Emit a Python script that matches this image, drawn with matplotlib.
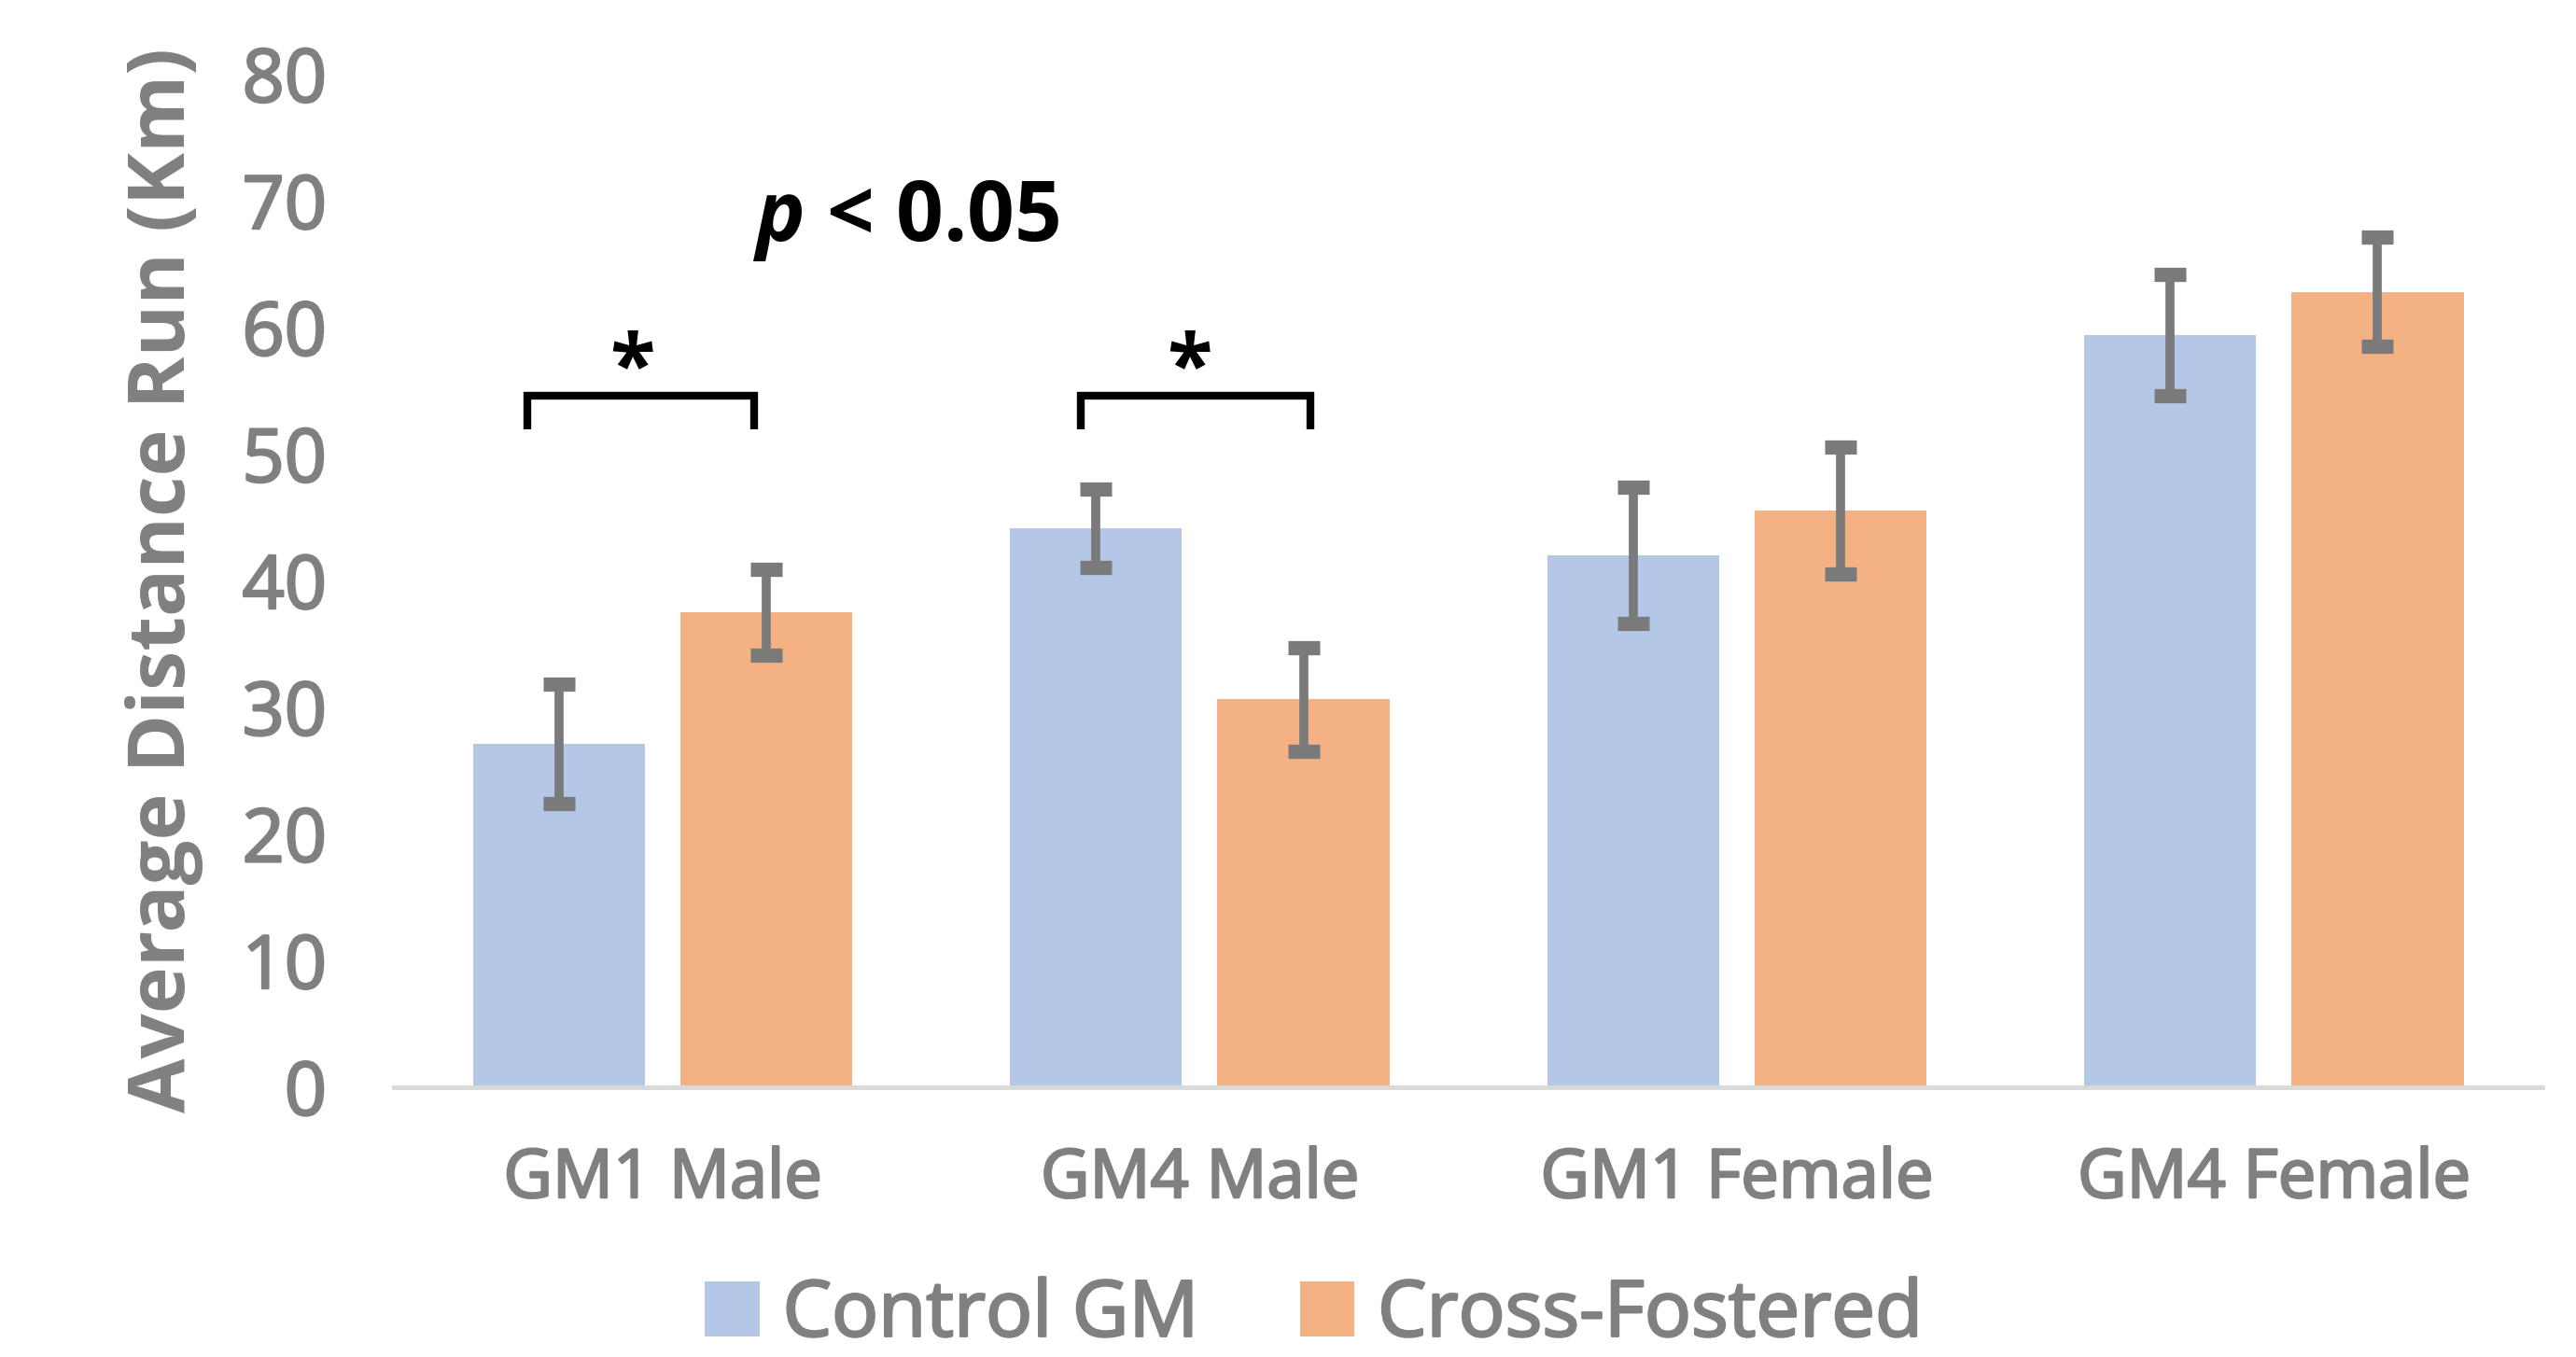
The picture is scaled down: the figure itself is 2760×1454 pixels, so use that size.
import matplotlib.pyplot as plt
import matplotlib.patheffects as pe
import numpy as np

plt.rcParams['font.family'] = ['Open Sans', 'DejaVu Sans']
plt.rcParams['mathtext.fontset'] = 'custom'
plt.rcParams['mathtext.it'] = 'Open Sans:italic:bold'
plt.rcParams['mathtext.rm'] = 'Open Sans:bold'

# values
groups = ["GM1 Male", "GM4 Male", "GM1 Female", "GM4 Female"]
control_gm = [27.1, 44.1, 42.0, 59.4]
control_err = [4.7, 3.1, 5.4, 4.8]
cross_fostered = [37.5, 30.6, 45.5, 62.8]
cross_err = [3.4, 4.1, 5.0, 4.3]
series_names = ["Control GM", "Cross-Fostered"]
yticks = [0, 10, 20, 30, 40, 50, 60, 70, 80]

blue = '#b4c7e7'
orange = '#f4b183'
grey = '#808080'
heavy = [pe.withStroke(linewidth=1.8, foreground=grey)]

fig = plt.figure(figsize=(27.6, 14.54), dpi=100)
ax = fig.add_axes([0.153, 0.199, 0.834, 0.7465])

x = np.arange(len(groups))
w = 0.32
off = 0.193
err_kw = dict(ecolor='#7a7a7a', elinewidth=7, capsize=12, capthick=11)
ax.bar(x - off, control_gm, w, color=blue, yerr=control_err, error_kw=err_kw,
       label=series_names[0], zorder=2)
ax.bar(x + off, cross_fostered, w, color=orange, yerr=cross_err, error_kw=err_kw,
       label=series_names[1], zorder=2)

ax.set_xlim(-0.5, 3.5)
ax.set_ylim(0, 80)
ax.set_yticks(yticks)
ax.set_xticks(x)
ax.set_xticklabels(groups)
ax.tick_params(axis='both', length=0, colors=grey)
ax.tick_params(axis='y', labelsize=57, pad=52)
ax.tick_params(axis='x', labelsize=52, pad=46)
for lab in ax.get_xticklabels() + ax.get_yticklabels():
    lab.set_path_effects(heavy)

for s in ['left', 'right', 'top']:
    ax.spines[s].set_visible(False)
ax.spines['bottom'].set_color('#d9d9d9')
ax.spines['bottom'].set_linewidth(3.5)

ax.set_ylabel("Average Distance Run (Km)", fontsize=61, color=grey,
              fontweight='bold', labelpad=30)

# significance brackets
for x0, x1, xs in [(-0.252, 0.170, -0.057), (0.778, 1.206, 0.980)]:
    ax.plot([x0, x0, x1, x1], [51.9, 54.6, 54.6, 51.9], color='black',
            lw=6, solid_capstyle='butt', solid_joinstyle='miter')
    ax.text(xs, 53.2, "*", fontsize=64, fontweight='bold', ha='center',
            va='bottom', color='black')
ax.text(0.454, 68.4, r"$\mathit{p}$ < 0.05", fontsize=64, fontweight='bold',
        ha='center', va='center', color='black')

leg = fig.legend(loc='lower center', bbox_to_anchor=(0.51, -0.05), ncol=2,
                 frameon=False, handlelength=0.7, handleheight=0.7,
                 handletextpad=0.3, columnspacing=1.3, labelcolor=grey,
                 prop={'size': 60})
for t in leg.get_texts():
    t.set_path_effects(heavy)

fig.savefig("out.png", dpi=100)
